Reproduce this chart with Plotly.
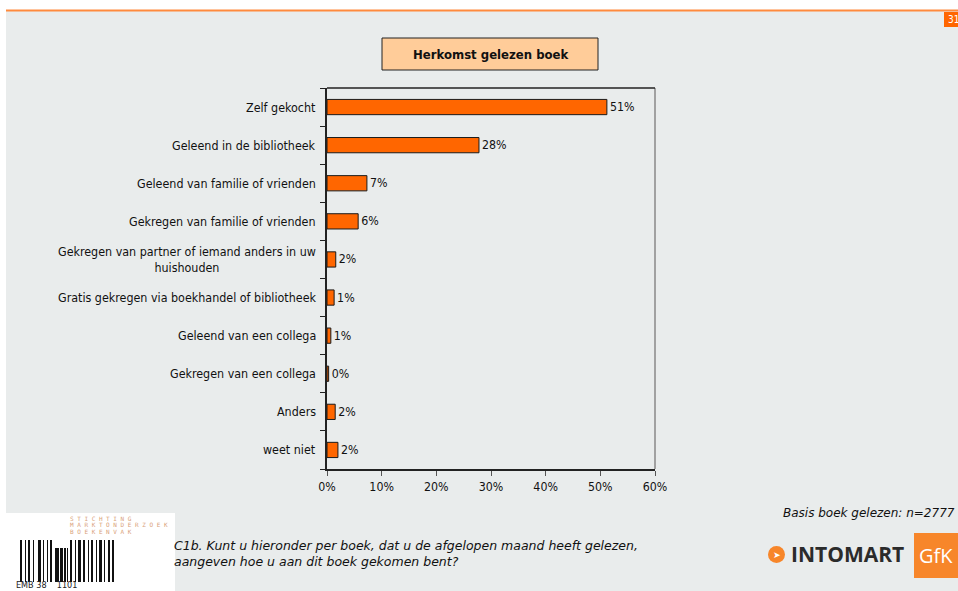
import plotly.graph_objects as go

# Herkomst gelezen boek (percentage of books read)
categories = [
    "Zelf gekocht",
    "Geleend in de bibliotheek",
    "Geleend van familie of vrienden",
    "Gekregen van familie of vrienden",
    "Gekregen van partner of iemand anders in uw<br>huishouden",
    "Gratis gekregen via boekhandel of bibliotheek",
    "Geleend van een collega",
    "Gekregen van een collega",
    "Anders",
    "weet niet",
]
values = [51.2, 27.8, 7.3, 5.7, 1.6, 1.3, 0.7, 0.3, 1.5, 2.0]
x_ticks = [0, 10, 20, 30, 40, 50, 60]
x_tick_labels = ["0%", "10%", "20%", "30%", "40%", "50%", "60%"]

FONT = "Tahoma, 'DejaVu Sans Condensed', 'DejaVu Sans', sans-serif"
WIDE = "Verdana, 'DejaVu Sans', sans-serif"
ORANGE = "#FF6600"
BG = "#E9ECEC"

W, H = 958, 591
PL, PR, PT, PB = 327, 655, 88, 469   # plot area in pixels


def px_x(x):
    return (x - PL) / (PR - PL)


def px_y(y):
    return (PB - y) / (PB - PT)


positions = list(range(len(categories)))

fig = go.Figure()
fig.add_trace(go.Bar(
    x=values,
    y=positions,
    orientation="h",
    width=0.4,
    marker=dict(color=ORANGE, line=dict(color="#1a1a1a", width=1)),
    text=[f"{v:.0f}%" for v in values],
    textposition="outside",
    textfont=dict(family=FONT, size=12.3, color="#111"),
    cliponaxis=False,
    hoverinfo="skip",
))

# category labels, right-aligned against the axis, multi-line centred
for p, c in zip(positions, categories):
    fig.add_annotation(
        x=0, y=p, xref="paper", yref="y",
        text=c, showarrow=False,
        xanchor="right", yanchor="middle", xshift=-9,
        align="center",
        font=dict(family=FONT, size=12.4, color="#111"),
    )

# grey page background and orange top rule
fig.add_shape(type="rect", xref="paper", yref="paper", layer="below",
              x0=px_x(6), x1=px_x(958), y0=px_y(591), y1=px_y(11),
              line=dict(width=0), fillcolor=BG)
fig.add_shape(type="line", xref="paper", yref="paper",
              x0=px_x(6), x1=px_x(958), y0=px_y(10.5), y1=px_y(10.5),
              line=dict(color="#FF8A3D", width=2))

# plot frame: dark top/bottom/left, grey right
fig.add_shape(type="line", xref="paper", yref="paper",
              x0=1, x1=1, y0=0, y1=1, line=dict(color="#888", width=1.5))
fig.add_shape(type="line", xref="paper", yref="paper",
              x0=0, x1=1, y0=1, y1=1, line=dict(color="#222", width=1.5))

# page number box
fig.add_shape(type="rect", xref="paper", yref="paper",
              x0=px_x(944), x1=px_x(960), y0=px_y(27), y1=px_y(12),
              line=dict(width=0), fillcolor=ORANGE)
fig.add_annotation(x=px_x(946), y=px_y(19.5), xref="paper", yref="paper",
                   text="31", showarrow=False, xanchor="left", yanchor="middle",
                   font=dict(family=FONT, size=10, color="white"))

# title box
fig.add_shape(type="rect", xref="paper", yref="paper",
              x0=px_x(382), x1=px_x(598), y0=px_y(70), y1=px_y(38),
              line=dict(color="#222", width=1), fillcolor="#FFCC99")
fig.add_annotation(x=px_x(490), y=px_y(54), xref="paper", yref="paper",
                   text="<b>Herkomst gelezen boek</b>", showarrow=False,
                   xanchor="center", yanchor="middle",
                   font=dict(family=FONT, size=13, color="#111"))

# footer texts
fig.add_annotation(x=px_x(957), y=px_y(513), xref="paper", yref="paper",
                   text="<i>Basis boek gelezen: n=2777</i>", showarrow=False,
                   xanchor="right", yanchor="middle",
                   font=dict(family=WIDE, size=12, color="#111"))
fig.add_annotation(x=px_x(172), y=px_y(553), xref="paper", yref="paper",
                   text="<i>C1b. Kunt u hieronder per boek, dat u de afgelopen maand heeft gelezen,"
                        "<br>aangeven hoe u aan dit boek gekomen bent?</i>",
                   showarrow=False, xanchor="left", yanchor="middle", align="left",
                   font=dict(family=WIDE, size=12.5, color="#111"))

# Stichting Marktonderzoek Boekenvak logo
fig.add_shape(type="rect", xref="paper", yref="paper",
              x0=px_x(6), x1=px_x(175), y0=px_y(591), y1=px_y(513),
              line=dict(width=0), fillcolor="white")
for i, word in enumerate(["STICHTING", "MARKTONDERZOEK", "BOEKENVAK"]):
    fig.add_annotation(x=px_x(68), y=px_y(518 + 6.5 * i), xref="paper", yref="paper",
                       text=" ".join(word), showarrow=False,
                       xanchor="left", yanchor="middle",
                       font=dict(family="DejaVu Sans Mono", size=6, color="#D9A27A"))
bar_widths = [2, 1, 2, 1, 3, 1, 1, 2, 4, 3, 2, 1, 2, 1, 3, 2, 1, 2, 1, 3, 1, 2, 2]
gaps = [3, 2, 3, 4, 2, 3, 2, 3, 1, 1, 1, 2, 3, 2, 2, 3, 2, 3, 2, 2, 3, 2, 2]
xb = 20
for i, (bw, g) in enumerate(zip(bar_widths, gaps)):
    top = 540 if not (8 <= i <= 11) else 548
    fig.add_shape(type="rect", xref="paper", yref="paper",
                  x0=px_x(xb), x1=px_x(xb + bw), y0=px_y(582), y1=px_y(top),
                  line=dict(width=0), fillcolor="#111")
    xb += bw + g
fig.add_annotation(x=px_x(14), y=px_y(585), xref="paper", yref="paper",
                   text="EMB 38    1101", showarrow=False,
                   xanchor="left", yanchor="middle",
                   font=dict(family=FONT, size=9, color="#222"))

# Intomart GfK logo
fig.add_shape(type="circle", xref="paper", yref="paper",
              x0=px_x(768), x1=px_x(785), y0=px_y(563), y1=px_y(546),
              line=dict(width=0), fillcolor="#F7862A")
fig.add_annotation(x=px_x(776.5), y=px_y(554.5), xref="paper", yref="paper",
                   text="<b>➤</b>", showarrow=False, xanchor="center", yanchor="middle",
                   font=dict(family="DejaVu Sans", size=9, color="white"))
fig.add_annotation(x=px_x(789), y=px_y(554), xref="paper", yref="paper",
                   text="<b>INTOMART</b>", showarrow=False,
                   xanchor="left", yanchor="middle",
                   font=dict(family="'Open Sans', sans-serif", size=21, color="#2b2b2b"))
fig.add_shape(type="rect", xref="paper", yref="paper",
              x0=px_x(914), x1=px_x(958), y0=px_y(578), y1=px_y(533),
              line=dict(width=0), fillcolor="#F7862A")
fig.add_annotation(x=px_x(936), y=px_y(555), xref="paper", yref="paper",
                   text="GfK", showarrow=False, xanchor="center", yanchor="middle",
                   font=dict(family="'Open Sans', sans-serif", size=20, color="white"))

fig.update_layout(
    width=W, height=H,
    margin=dict(l=PL, r=W - PR, t=PT, b=H - PB),
    paper_bgcolor="white",
    plot_bgcolor=BG,
    showlegend=False,
    bargap=0.6,
    font=dict(family=FONT, size=12, color="#111"),
    xaxis=dict(
        range=[0, 60],
        tickvals=x_ticks, ticktext=x_tick_labels,
        ticks="outside", ticklen=5, tickcolor="#555",
        showgrid=False, zeroline=False,
        showline=True, linecolor="#222", linewidth=1.5,
        tickfont=dict(family=FONT, size=12.3, color="#111"),
        fixedrange=True,
    ),
    yaxis=dict(
        range=[len(categories) - 0.5, -0.5],
        tickvals=[p - 0.5 for p in positions] + [len(categories) - 0.5],
        ticktext=[""] * (len(categories) + 1),
        ticks="outside", ticklen=5, tickcolor="#222",
        showgrid=False, zeroline=False,
        showline=True, linecolor="#222", linewidth=2,
        fixedrange=True,
    ),
)

fig.write_html("out.html")
